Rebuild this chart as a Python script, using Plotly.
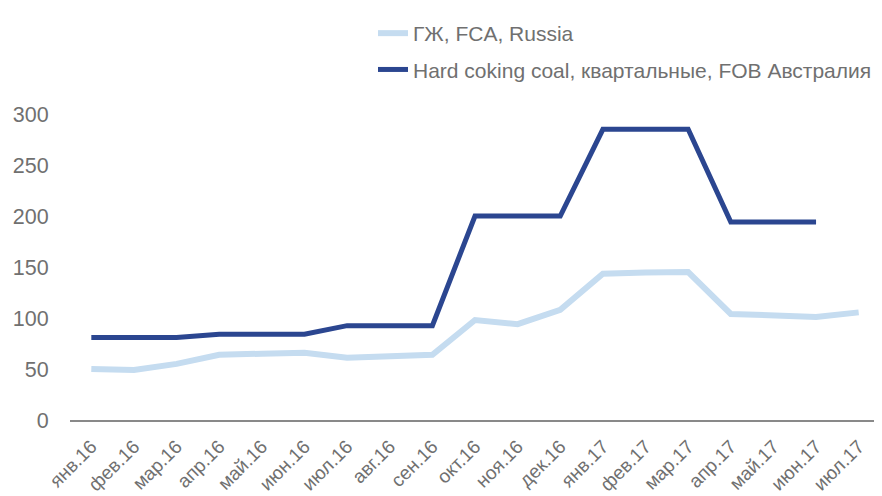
import plotly.graph_objects as go

categories = ["янв.16", "фев.16", "мар.16", "апр.16", "май.16", "июн.16", "июл.16",
              "авг.16", "сен.16", "окт.16", "ноя.16", "дек.16", "янв.17", "фев.17",
              "мар.17", "апр.17", "май.17", "июн.17", "июл.17"]
gzh_fca_russia = [50, 49, 55, 64, 65, 66, 61, 62, 64, 98, 94, 108, 143.5, 144.5, 145, 104, 102, 101, 105.5]
hcc_fob_australia = [81, 81, 81, 84, 84, 84, 92.5, 92.5, 92.5, 200, 200, 200, 285, 285, 285, 194, 194, 194, None]
y_ticks = [0, 50, 100, 150, 200, 250, 300]

name_light = "ГЖ, FCA, Russia"
name_dark = "Hard coking coal, квартальные, FOB Австралия"

TXT = "#707070"

fig = go.Figure()
fig.add_trace(go.Scatter(x=categories, y=gzh_fca_russia, mode="lines", name=name_light,
                         line=dict(color="#C5DCF0", width=6), legendgroup="a"))
fig.add_trace(go.Scatter(x=categories, y=hcc_fob_australia, mode="lines", name=name_dark,
                         line=dict(color="#2B4690", width=5), legendgroup="b",
                         connectgaps=False))

# page has an 8px body margin; figure coordinates = page coordinates - 8
fig.update_layout(
    width=874, height=488,
    margin=dict(l=62, r=2, t=55, b=76),
    plot_bgcolor="white", paper_bgcolor="white",
    font=dict(family="Liberation Sans, Arial, sans-serif", color=TXT, size=21),
    showlegend=True,
    legend=dict(x=(365 - 62) / 810, y=1 + 50 / 357, xanchor="left", yanchor="top",
                font=dict(size=21, color=TXT), tracegroupgap=6, traceorder="grouped",
                bgcolor="rgba(0,0,0,0)"),
    xaxis=dict(type="category", range=[-0.5, 18.5], showgrid=False,
               showline=True, linecolor="#898989", linewidth=2,
               ticks="outside", ticklen=6, tickcolor="rgba(0,0,0,0)", tickangle=-45,
               tickfont=dict(size=19, color=TXT), zeroline=False),
    yaxis=dict(range=[0, 350], tickvals=y_ticks, showgrid=False,
               zeroline=False, showline=False,
               ticks="outside", ticklen=16, tickcolor="rgba(0,0,0,0)",
               tickfont=dict(size=21.5, color=TXT)),
)

fig.write_html("out.html")
